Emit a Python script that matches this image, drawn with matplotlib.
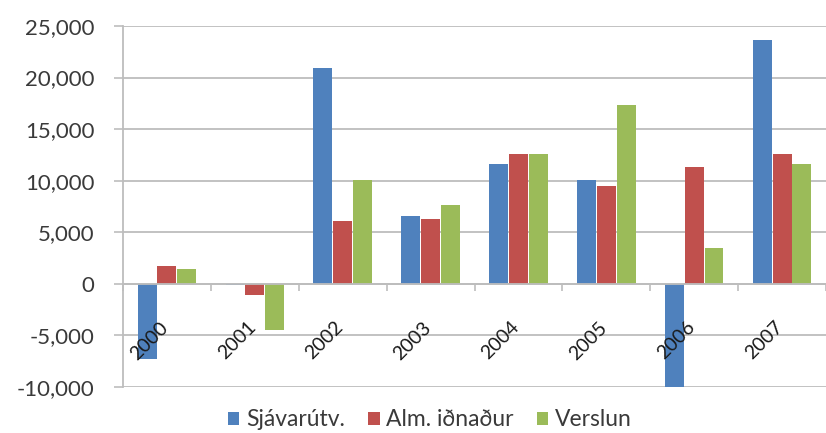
import matplotlib
matplotlib.use("Agg")
import matplotlib.pyplot as plt
import matplotlib.transforms as mtransforms
import numpy as np

years = ["2000", "2001", "2002", "2003", "2004", "2005", "2006", "2007"]
sjavarutv = [-7300, -100, 20900, 6600, 11650, 10100, -10000, 23600]
alm_idnadur = [1750, -1100, 6100, 6300, 12600, 9450, 11350, 12600]
verslun = [1450, -4500, 10100, 7600, 12600, 17300, 3500, 11600]
series_names = ["Sjávarútv.", "Alm. iðnaður", "Verslun"]
colors = ["#4F81BD", "#C0504D", "#9BBB59"]
yticks = [-10000, -5000, 0, 5000, 10000, 15000, 20000, 25000]

plt.rcParams['font.family'] = ['Lato', 'DejaVu Sans']

fig = plt.figure(figsize=(8.26, 4.33), dpi=100)
ax = fig.add_axes([123/826, 1-387/433, (826-123)/826, (387-26)/433])

x = np.arange(len(years))
w = 0.215
step = 0.226
handles = []
for k, (vals, name, c) in enumerate(zip([sjavarutv, alm_idnadur, verslun], series_names, colors)):
    h = ax.bar(x + (k-1)*step, vals, width=w, color=c, label=name, zorder=2)
    handles.append(h)

ax.set_ylim(-10000, 25000)
ax.set_xlim(-0.5, -0.5 + (826-123)/88.4)
ax.set_yticks(yticks)
ax.set_yticklabels([f"{v:,}" for v in yticks])
ax.yaxis.grid(True, color="#BDBDBD", linewidth=1.3)
ax.tick_params(axis='y', length=6.5, width=1.2, color="#BDBDBD", pad=14,
               labelsize=16, labelcolor="#3A3A3A")

for s in ['top', 'right']:
    ax.spines[s].set_visible(False)
ax.spines['left'].set_color("#BDBDBD")
ax.spines['left'].set_linewidth(1.3)
ax.spines['bottom'].set_position(('data', 0))
ax.spines['bottom'].set_color("#BDBDBD")
ax.spines['bottom'].set_linewidth(1.3)
ax.spines['bottom'].set_zorder(2.5)

ax.set_xticks(x)
ax.set_xticklabels(years)
ax.set_xticks(np.arange(len(years)+1) - 0.5, minor=True)
ax.tick_params(axis='x', which='major', length=0, pad=25, labelsize=14,
               labelcolor="#1A1A1A", labelrotation=45)
ax.tick_params(axis='x', which='minor', length=5, width=1.2, color="#BDBDBD")
offset = mtransforms.ScaledTranslation(4/100, 0, fig.dpi_scale_trans)
for lab in ax.get_xticklabels():
    lab.set_rotation(45)
    lab.set_horizontalalignment('right')
    lab.set_rotation_mode('default')
    lab.set_transform(lab.get_transform() + offset)

ax.yaxis.set_zorder(0.5)
ax.xaxis.set_zorder(5)

fig.legend(handles=handles, labels=series_names, loc='center',
           bbox_to_anchor=(430/826, 1-420/433), ncol=3, frameon=False,
           fontsize=16.5, handlelength=0.5, handleheight=0.5,
           handletextpad=0.3, columnspacing=1.0, labelcolor="#3A3A3A")

fig.savefig("out.png", dpi=100, facecolor="white")
